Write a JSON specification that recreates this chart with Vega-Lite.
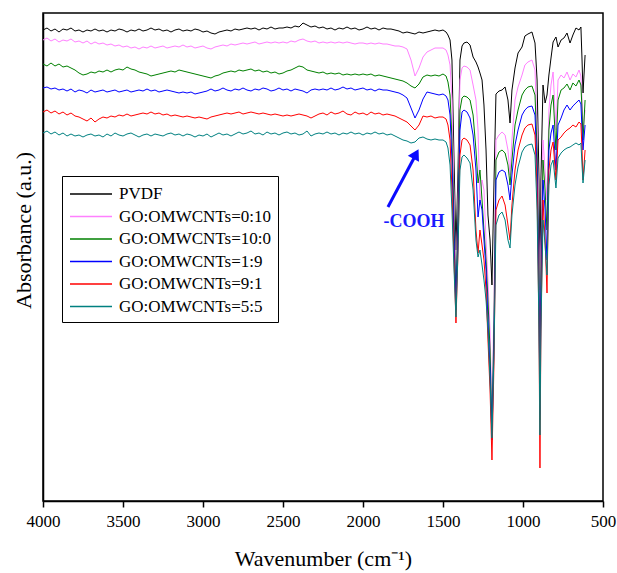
{
"$schema":"https://vega.github.io/schema/vega-lite/v6.json",
"autosize":"none",
"width":560,"height":488,
"padding":{"left":43,"top":13,"right":14,"bottom":72},
"background":"white",
"config":{"font":"Liberation Serif, Times New Roman, serif","view":{"stroke":"black","strokeWidth":1.5}},
"layer":[
{"data":{"values":[
{"s":"PVDF","w":4000,"a":471},{"s":"PVDF","w":3975,"a":473},{"s":"PVDF","w":3950,"a":470},{"s":"PVDF","w":3925,"a":472},{"s":"PVDF","w":3900,"a":469},{"s":"PVDF","w":3875,"a":472},{"s":"PVDF","w":3850,"a":471},{"s":"PVDF","w":3825,"a":473},{"s":"PVDF","w":3800,"a":470},{"s":"PVDF","w":3775,"a":471},
{"s":"PVDF","w":3750,"a":469},{"s":"PVDF","w":3725,"a":471},{"s":"PVDF","w":3700,"a":470},{"s":"PVDF","w":3675,"a":472},{"s":"PVDF","w":3650,"a":470},{"s":"PVDF","w":3625,"a":471},{"s":"PVDF","w":3600,"a":469},{"s":"PVDF","w":3575,"a":471},{"s":"PVDF","w":3550,"a":470},{"s":"PVDF","w":3525,"a":472},
{"s":"PVDF","w":3500,"a":471},{"s":"PVDF","w":3475,"a":469},{"s":"PVDF","w":3450,"a":471},{"s":"PVDF","w":3425,"a":470},{"s":"PVDF","w":3400,"a":472},{"s":"PVDF","w":3375,"a":470},{"s":"PVDF","w":3350,"a":471},{"s":"PVDF","w":3325,"a":473},{"s":"PVDF","w":3300,"a":471},{"s":"PVDF","w":3275,"a":472},
{"s":"PVDF","w":3250,"a":470},{"s":"PVDF","w":3225,"a":471},{"s":"PVDF","w":3200,"a":469},{"s":"PVDF","w":3175,"a":471},{"s":"PVDF","w":3150,"a":472},{"s":"PVDF","w":3125,"a":470},{"s":"PVDF","w":3100,"a":471},{"s":"PVDF","w":3075,"a":470},{"s":"PVDF","w":3050,"a":472},{"s":"PVDF","w":3025,"a":471},
{"s":"PVDF","w":3000,"a":469},{"s":"PVDF","w":2975,"a":470},{"s":"PVDF","w":2950,"a":468},{"s":"PVDF","w":2925,"a":467},{"s":"PVDF","w":2900,"a":469},{"s":"PVDF","w":2875,"a":470},{"s":"PVDF","w":2850,"a":471},{"s":"PVDF","w":2825,"a":470},{"s":"PVDF","w":2800,"a":472},{"s":"PVDF","w":2775,"a":471},
{"s":"PVDF","w":2750,"a":472},{"s":"PVDF","w":2725,"a":473},{"s":"PVDF","w":2700,"a":472},{"s":"PVDF","w":2675,"a":473},{"s":"PVDF","w":2650,"a":471},{"s":"PVDF","w":2625,"a":473},{"s":"PVDF","w":2600,"a":472},{"s":"PVDF","w":2575,"a":474},{"s":"PVDF","w":2550,"a":472},{"s":"PVDF","w":2525,"a":473},
{"s":"PVDF","w":2500,"a":473},{"s":"PVDF","w":2475,"a":474},{"s":"PVDF","w":2450,"a":473},{"s":"PVDF","w":2425,"a":475},{"s":"PVDF","w":2400,"a":474},{"s":"PVDF","w":2375,"a":478},{"s":"PVDF","w":2350,"a":476},{"s":"PVDF","w":2325,"a":474},{"s":"PVDF","w":2300,"a":475},{"s":"PVDF","w":2275,"a":473},
{"s":"PVDF","w":2250,"a":474},{"s":"PVDF","w":2225,"a":472},{"s":"PVDF","w":2200,"a":473},{"s":"PVDF","w":2175,"a":471},{"s":"PVDF","w":2150,"a":473},{"s":"PVDF","w":2125,"a":472},{"s":"PVDF","w":2100,"a":474},{"s":"PVDF","w":2075,"a":472},{"s":"PVDF","w":2050,"a":473},{"s":"PVDF","w":2025,"a":471},
{"s":"PVDF","w":2000,"a":472},{"s":"PVDF","w":1975,"a":474},{"s":"PVDF","w":1950,"a":472},{"s":"PVDF","w":1925,"a":473},{"s":"PVDF","w":1900,"a":471},{"s":"PVDF","w":1875,"a":473},{"s":"PVDF","w":1850,"a":472},{"s":"PVDF","w":1825,"a":472},{"s":"PVDF","w":1800,"a":471},{"s":"PVDF","w":1775,"a":470},
{"s":"PVDF","w":1750,"a":468},{"s":"PVDF","w":1725,"a":469},{"s":"PVDF","w":1700,"a":468},{"s":"PVDF","w":1675,"a":467},{"s":"PVDF","w":1650,"a":469},{"s":"PVDF","w":1625,"a":468},{"s":"PVDF","w":1600,"a":469},{"s":"PVDF","w":1575,"a":470},{"s":"PVDF","w":1550,"a":471},{"s":"PVDF","w":1525,"a":470},
{"s":"PVDF","w":1500,"a":471},{"s":"PVDF","w":1481,"a":469},{"s":"PVDF","w":1469,"a":466},{"s":"PVDF","w":1456,"a":461},{"s":"PVDF","w":1444,"a":441},{"s":"PVDF","w":1431,"a":341},{"s":"PVDF","w":1419,"a":251},{"s":"PVDF","w":1406,"a":331},{"s":"PVDF","w":1394,"a":441},{"s":"PVDF","w":1381,"a":455},
{"s":"PVDF","w":1369,"a":458},{"s":"PVDF","w":1350,"a":459},{"s":"PVDF","w":1331,"a":456},{"s":"PVDF","w":1312,"a":444},{"s":"PVDF","w":1294,"a":439},{"s":"PVDF","w":1281,"a":434},{"s":"PVDF","w":1269,"a":428},{"s":"PVDF","w":1256,"a":421},{"s":"PVDF","w":1244,"a":396},{"s":"PVDF","w":1231,"a":351},
{"s":"PVDF","w":1219,"a":286},{"s":"PVDF","w":1206,"a":261},{"s":"PVDF","w":1194,"a":216},{"s":"PVDF","w":1181,"a":321},{"s":"PVDF","w":1169,"a":407},{"s":"PVDF","w":1150,"a":410},{"s":"PVDF","w":1131,"a":411},{"s":"PVDF","w":1112,"a":414},{"s":"PVDF","w":1094,"a":401},{"s":"PVDF","w":1081,"a":378},
{"s":"PVDF","w":1069,"a":411},{"s":"PVDF","w":1050,"a":433},{"s":"PVDF","w":1031,"a":448},{"s":"PVDF","w":1006,"a":454},{"s":"PVDF","w":988,"a":465},{"s":"PVDF","w":969,"a":467},{"s":"PVDF","w":944,"a":469},{"s":"PVDF","w":925,"a":458},{"s":"PVDF","w":912,"a":421},{"s":"PVDF","w":900,"a":321},
{"s":"PVDF","w":894,"a":211},{"s":"PVDF","w":888,"a":321},{"s":"PVDF","w":875,"a":416},{"s":"PVDF","w":862,"a":398},{"s":"PVDF","w":850,"a":406},{"s":"PVDF","w":838,"a":426},{"s":"PVDF","w":825,"a":443},{"s":"PVDF","w":812,"a":459},{"s":"PVDF","w":794,"a":464},{"s":"PVDF","w":781,"a":454},
{"s":"PVDF","w":762,"a":461},{"s":"PVDF","w":744,"a":463},{"s":"PVDF","w":725,"a":468},{"s":"PVDF","w":706,"a":458},{"s":"PVDF","w":688,"a":466},{"s":"PVDF","w":669,"a":473},{"s":"PVDF","w":650,"a":471},{"s":"PVDF","w":638,"a":474},{"s":"PVDF","w":631,"a":441},{"s":"PVDF","w":625,"a":408},
{"s":"PVDF","w":612,"a":446},

{"s":"0:10","w":4000,"a":461},{"s":"0:10","w":3975,"a":463},{"s":"0:10","w":3950,"a":460},{"s":"0:10","w":3925,"a":462},{"s":"0:10","w":3900,"a":459},{"s":"0:10","w":3875,"a":461},{"s":"0:10","w":3850,"a":460},{"s":"0:10","w":3825,"a":462},{"s":"0:10","w":3800,"a":459},{"s":"0:10","w":3775,"a":460},
{"s":"0:10","w":3750,"a":458},{"s":"0:10","w":3725,"a":460},{"s":"0:10","w":3700,"a":457},{"s":"0:10","w":3675,"a":459},{"s":"0:10","w":3650,"a":457},{"s":"0:10","w":3625,"a":458},{"s":"0:10","w":3600,"a":456},{"s":"0:10","w":3575,"a":457},{"s":"0:10","w":3550,"a":455},{"s":"0:10","w":3525,"a":456},
{"s":"0:10","w":3500,"a":454},{"s":"0:10","w":3475,"a":455},{"s":"0:10","w":3450,"a":453},{"s":"0:10","w":3425,"a":454},{"s":"0:10","w":3400,"a":452},{"s":"0:10","w":3375,"a":454},{"s":"0:10","w":3350,"a":453},{"s":"0:10","w":3325,"a":455},{"s":"0:10","w":3300,"a":453},{"s":"0:10","w":3275,"a":454},
{"s":"0:10","w":3250,"a":455},{"s":"0:10","w":3225,"a":453},{"s":"0:10","w":3200,"a":454},{"s":"0:10","w":3175,"a":455},{"s":"0:10","w":3150,"a":454},{"s":"0:10","w":3125,"a":456},{"s":"0:10","w":3100,"a":454},{"s":"0:10","w":3075,"a":455},{"s":"0:10","w":3050,"a":453},{"s":"0:10","w":3025,"a":454},
{"s":"0:10","w":3000,"a":455},{"s":"0:10","w":2975,"a":453},{"s":"0:10","w":2950,"a":452},{"s":"0:10","w":2925,"a":454},{"s":"0:10","w":2900,"a":455},{"s":"0:10","w":2875,"a":456},{"s":"0:10","w":2850,"a":455},{"s":"0:10","w":2825,"a":457},{"s":"0:10","w":2800,"a":456},{"s":"0:10","w":2775,"a":457},
{"s":"0:10","w":2750,"a":458},{"s":"0:10","w":2725,"a":457},{"s":"0:10","w":2700,"a":458},{"s":"0:10","w":2675,"a":459},{"s":"0:10","w":2650,"a":457},{"s":"0:10","w":2625,"a":458},{"s":"0:10","w":2600,"a":459},{"s":"0:10","w":2575,"a":458},{"s":"0:10","w":2550,"a":459},{"s":"0:10","w":2525,"a":458},
{"s":"0:10","w":2500,"a":459},{"s":"0:10","w":2475,"a":458},{"s":"0:10","w":2450,"a":460},{"s":"0:10","w":2425,"a":459},{"s":"0:10","w":2400,"a":461},{"s":"0:10","w":2375,"a":462},{"s":"0:10","w":2350,"a":460},{"s":"0:10","w":2325,"a":459},{"s":"0:10","w":2300,"a":460},{"s":"0:10","w":2275,"a":458},
{"s":"0:10","w":2250,"a":459},{"s":"0:10","w":2225,"a":458},{"s":"0:10","w":2200,"a":459},{"s":"0:10","w":2175,"a":458},{"s":"0:10","w":2150,"a":459},{"s":"0:10","w":2125,"a":458},{"s":"0:10","w":2100,"a":459},{"s":"0:10","w":2075,"a":458},{"s":"0:10","w":2050,"a":457},{"s":"0:10","w":2025,"a":458},
{"s":"0:10","w":2000,"a":458},{"s":"0:10","w":1975,"a":457},{"s":"0:10","w":1950,"a":458},{"s":"0:10","w":1925,"a":457},{"s":"0:10","w":1900,"a":458},{"s":"0:10","w":1875,"a":457},{"s":"0:10","w":1850,"a":457},{"s":"0:10","w":1825,"a":456},{"s":"0:10","w":1800,"a":455},{"s":"0:10","w":1775,"a":455},
{"s":"0:10","w":1750,"a":454},{"s":"0:10","w":1725,"a":452},{"s":"0:10","w":1700,"a":441},{"s":"0:10","w":1675,"a":425},{"s":"0:10","w":1650,"a":433},{"s":"0:10","w":1625,"a":444},{"s":"0:10","w":1600,"a":449},{"s":"0:10","w":1575,"a":451},{"s":"0:10","w":1550,"a":453},{"s":"0:10","w":1525,"a":453},
{"s":"0:10","w":1500,"a":453},{"s":"0:10","w":1481,"a":451},{"s":"0:10","w":1469,"a":446},{"s":"0:10","w":1456,"a":436},{"s":"0:10","w":1444,"a":401},{"s":"0:10","w":1431,"a":301},{"s":"0:10","w":1419,"a":211},{"s":"0:10","w":1406,"a":301},{"s":"0:10","w":1394,"a":421},{"s":"0:10","w":1381,"a":433},
{"s":"0:10","w":1369,"a":435},{"s":"0:10","w":1350,"a":434},{"s":"0:10","w":1331,"a":431},{"s":"0:10","w":1312,"a":416},{"s":"0:10","w":1294,"a":401},{"s":"0:10","w":1281,"a":371},{"s":"0:10","w":1269,"a":296},{"s":"0:10","w":1256,"a":321},{"s":"0:10","w":1244,"a":311},{"s":"0:10","w":1231,"a":261},
{"s":"0:10","w":1219,"a":221},{"s":"0:10","w":1206,"a":171},{"s":"0:10","w":1194,"a":81},{"s":"0:10","w":1181,"a":201},{"s":"0:10","w":1169,"a":361},{"s":"0:10","w":1150,"a":366},{"s":"0:10","w":1131,"a":369},{"s":"0:10","w":1112,"a":366},{"s":"0:10","w":1094,"a":351},{"s":"0:10","w":1081,"a":326},
{"s":"0:10","w":1069,"a":361},{"s":"0:10","w":1050,"a":401},{"s":"0:10","w":1031,"a":414},{"s":"0:10","w":1006,"a":426},{"s":"0:10","w":988,"a":436},{"s":"0:10","w":969,"a":439},{"s":"0:10","w":944,"a":441},{"s":"0:10","w":925,"a":431},{"s":"0:10","w":912,"a":371},{"s":"0:10","w":900,"a":251},
{"s":"0:10","w":894,"a":121},{"s":"0:10","w":888,"a":251},{"s":"0:10","w":875,"a":361},{"s":"0:10","w":862,"a":331},{"s":"0:10","w":850,"a":301},{"s":"0:10","w":838,"a":391},{"s":"0:10","w":825,"a":416},{"s":"0:10","w":812,"a":429},{"s":"0:10","w":794,"a":371},{"s":"0:10","w":781,"a":421},
{"s":"0:10","w":762,"a":426},{"s":"0:10","w":744,"a":423},{"s":"0:10","w":725,"a":429},{"s":"0:10","w":706,"a":421},{"s":"0:10","w":688,"a":427},{"s":"0:10","w":669,"a":424},{"s":"0:10","w":650,"a":431},{"s":"0:10","w":638,"a":425},{"s":"0:10","w":631,"a":401},{"s":"0:10","w":625,"a":371},
{"s":"0:10","w":612,"a":391},

{"s":"10:0","w":4000,"a":437},{"s":"10:0","w":3975,"a":435},{"s":"10:0","w":3950,"a":438},{"s":"10:0","w":3925,"a":435},{"s":"10:0","w":3900,"a":437},{"s":"10:0","w":3875,"a":434},{"s":"10:0","w":3850,"a":435},{"s":"10:0","w":3825,"a":433},{"s":"10:0","w":3800,"a":431},{"s":"10:0","w":3775,"a":428},
{"s":"10:0","w":3750,"a":426},{"s":"10:0","w":3725,"a":427},{"s":"10:0","w":3700,"a":429},{"s":"10:0","w":3675,"a":428},{"s":"10:0","w":3650,"a":430},{"s":"10:0","w":3625,"a":429},{"s":"10:0","w":3600,"a":431},{"s":"10:0","w":3575,"a":429},{"s":"10:0","w":3550,"a":431},{"s":"10:0","w":3525,"a":432},
{"s":"10:0","w":3500,"a":431},{"s":"10:0","w":3475,"a":434},{"s":"10:0","w":3450,"a":432},{"s":"10:0","w":3425,"a":431},{"s":"10:0","w":3400,"a":429},{"s":"10:0","w":3375,"a":428},{"s":"10:0","w":3350,"a":427},{"s":"10:0","w":3325,"a":425},{"s":"10:0","w":3300,"a":426},{"s":"10:0","w":3275,"a":427},
{"s":"10:0","w":3250,"a":428},{"s":"10:0","w":3225,"a":429},{"s":"10:0","w":3200,"a":430},{"s":"10:0","w":3175,"a":429},{"s":"10:0","w":3150,"a":431},{"s":"10:0","w":3125,"a":430},{"s":"10:0","w":3100,"a":429},{"s":"10:0","w":3075,"a":428},{"s":"10:0","w":3050,"a":427},{"s":"10:0","w":3025,"a":426},
{"s":"10:0","w":3000,"a":425},{"s":"10:0","w":2975,"a":424},{"s":"10:0","w":2950,"a":423},{"s":"10:0","w":2925,"a":425},{"s":"10:0","w":2900,"a":426},{"s":"10:0","w":2875,"a":428},{"s":"10:0","w":2850,"a":429},{"s":"10:0","w":2825,"a":430},{"s":"10:0","w":2800,"a":429},{"s":"10:0","w":2775,"a":431},
{"s":"10:0","w":2750,"a":430},{"s":"10:0","w":2725,"a":431},{"s":"10:0","w":2700,"a":432},{"s":"10:0","w":2675,"a":430},{"s":"10:0","w":2650,"a":431},{"s":"10:0","w":2625,"a":429},{"s":"10:0","w":2600,"a":430},{"s":"10:0","w":2575,"a":428},{"s":"10:0","w":2550,"a":429},{"s":"10:0","w":2525,"a":427},
{"s":"10:0","w":2500,"a":428},{"s":"10:0","w":2475,"a":430},{"s":"10:0","w":2450,"a":431},{"s":"10:0","w":2425,"a":433},{"s":"10:0","w":2400,"a":435},{"s":"10:0","w":2375,"a":434},{"s":"10:0","w":2350,"a":431},{"s":"10:0","w":2325,"a":430},{"s":"10:0","w":2300,"a":429},{"s":"10:0","w":2275,"a":428},
{"s":"10:0","w":2250,"a":429},{"s":"10:0","w":2225,"a":427},{"s":"10:0","w":2200,"a":428},{"s":"10:0","w":2175,"a":427},{"s":"10:0","w":2150,"a":428},{"s":"10:0","w":2125,"a":426},{"s":"10:0","w":2100,"a":427},{"s":"10:0","w":2075,"a":426},{"s":"10:0","w":2050,"a":427},{"s":"10:0","w":2025,"a":426},
{"s":"10:0","w":2000,"a":427},{"s":"10:0","w":1975,"a":426},{"s":"10:0","w":1950,"a":427},{"s":"10:0","w":1925,"a":425},{"s":"10:0","w":1900,"a":426},{"s":"10:0","w":1875,"a":425},{"s":"10:0","w":1850,"a":424},{"s":"10:0","w":1825,"a":423},{"s":"10:0","w":1800,"a":422},{"s":"10:0","w":1775,"a":421},
{"s":"10:0","w":1750,"a":420},{"s":"10:0","w":1725,"a":418},{"s":"10:0","w":1700,"a":415},{"s":"10:0","w":1675,"a":413},{"s":"10:0","w":1650,"a":417},{"s":"10:0","w":1625,"a":424},{"s":"10:0","w":1600,"a":426},{"s":"10:0","w":1575,"a":425},{"s":"10:0","w":1550,"a":426},{"s":"10:0","w":1525,"a":425},
{"s":"10:0","w":1500,"a":427},{"s":"10:0","w":1481,"a":425},{"s":"10:0","w":1469,"a":419},{"s":"10:0","w":1456,"a":406},{"s":"10:0","w":1444,"a":361},{"s":"10:0","w":1431,"a":281},{"s":"10:0","w":1419,"a":201},{"s":"10:0","w":1406,"a":291},{"s":"10:0","w":1394,"a":391},{"s":"10:0","w":1381,"a":403},
{"s":"10:0","w":1369,"a":405},{"s":"10:0","w":1350,"a":404},{"s":"10:0","w":1331,"a":401},{"s":"10:0","w":1312,"a":386},{"s":"10:0","w":1294,"a":351},{"s":"10:0","w":1281,"a":318},{"s":"10:0","w":1269,"a":331},{"s":"10:0","w":1256,"a":301},{"s":"10:0","w":1244,"a":271},{"s":"10:0","w":1231,"a":241},
{"s":"10:0","w":1219,"a":201},{"s":"10:0","w":1206,"a":151},{"s":"10:0","w":1194,"a":71},{"s":"10:0","w":1181,"a":181},{"s":"10:0","w":1169,"a":341},{"s":"10:0","w":1150,"a":349},{"s":"10:0","w":1131,"a":351},{"s":"10:0","w":1112,"a":348},{"s":"10:0","w":1094,"a":336},{"s":"10:0","w":1081,"a":316},
{"s":"10:0","w":1069,"a":341},{"s":"10:0","w":1050,"a":376},{"s":"10:0","w":1031,"a":391},{"s":"10:0","w":1006,"a":406},{"s":"10:0","w":988,"a":411},{"s":"10:0","w":969,"a":414},{"s":"10:0","w":944,"a":415},{"s":"10:0","w":925,"a":406},{"s":"10:0","w":912,"a":351},{"s":"10:0","w":900,"a":221},
{"s":"10:0","w":894,"a":81},{"s":"10:0","w":888,"a":221},{"s":"10:0","w":875,"a":341},{"s":"10:0","w":862,"a":311},{"s":"10:0","w":850,"a":271},{"s":"10:0","w":838,"a":371},{"s":"10:0","w":825,"a":396},{"s":"10:0","w":812,"a":406},{"s":"10:0","w":794,"a":351},{"s":"10:0","w":781,"a":401},
{"s":"10:0","w":762,"a":411},{"s":"10:0","w":744,"a":413},{"s":"10:0","w":725,"a":417},{"s":"10:0","w":706,"a":411},{"s":"10:0","w":688,"a":418},{"s":"10:0","w":669,"a":415},{"s":"10:0","w":650,"a":421},{"s":"10:0","w":638,"a":416},{"s":"10:0","w":631,"a":391},{"s":"10:0","w":625,"a":361},
{"s":"10:0","w":612,"a":401},

{"s":"1:9","w":4000,"a":413},{"s":"1:9","w":3975,"a":414},{"s":"1:9","w":3950,"a":412},{"s":"1:9","w":3925,"a":413},{"s":"1:9","w":3900,"a":411},{"s":"1:9","w":3875,"a":412},{"s":"1:9","w":3850,"a":410},{"s":"1:9","w":3825,"a":412},{"s":"1:9","w":3800,"a":409},{"s":"1:9","w":3775,"a":411},
{"s":"1:9","w":3750,"a":410},{"s":"1:9","w":3725,"a":408},{"s":"1:9","w":3700,"a":411},{"s":"1:9","w":3675,"a":409},{"s":"1:9","w":3650,"a":410},{"s":"1:9","w":3625,"a":411},{"s":"1:9","w":3600,"a":409},{"s":"1:9","w":3575,"a":410},{"s":"1:9","w":3550,"a":411},{"s":"1:9","w":3525,"a":409},
{"s":"1:9","w":3500,"a":410},{"s":"1:9","w":3475,"a":411},{"s":"1:9","w":3450,"a":409},{"s":"1:9","w":3425,"a":410},{"s":"1:9","w":3400,"a":411},{"s":"1:9","w":3375,"a":410},{"s":"1:9","w":3350,"a":412},{"s":"1:9","w":3325,"a":410},{"s":"1:9","w":3300,"a":411},{"s":"1:9","w":3275,"a":409},
{"s":"1:9","w":3250,"a":410},{"s":"1:9","w":3225,"a":411},{"s":"1:9","w":3200,"a":410},{"s":"1:9","w":3175,"a":409},{"s":"1:9","w":3150,"a":408},{"s":"1:9","w":3125,"a":409},{"s":"1:9","w":3100,"a":408},{"s":"1:9","w":3075,"a":409},{"s":"1:9","w":3050,"a":407},{"s":"1:9","w":3025,"a":408},
{"s":"1:9","w":3000,"a":409},{"s":"1:9","w":2975,"a":410},{"s":"1:9","w":2950,"a":412},{"s":"1:9","w":2925,"a":410},{"s":"1:9","w":2900,"a":411},{"s":"1:9","w":2875,"a":413},{"s":"1:9","w":2850,"a":411},{"s":"1:9","w":2825,"a":410},{"s":"1:9","w":2800,"a":412},{"s":"1:9","w":2775,"a":411},
{"s":"1:9","w":2750,"a":413},{"s":"1:9","w":2725,"a":411},{"s":"1:9","w":2700,"a":410},{"s":"1:9","w":2675,"a":412},{"s":"1:9","w":2650,"a":411},{"s":"1:9","w":2625,"a":413},{"s":"1:9","w":2600,"a":412},{"s":"1:9","w":2575,"a":410},{"s":"1:9","w":2550,"a":411},{"s":"1:9","w":2525,"a":413},
{"s":"1:9","w":2500,"a":411},{"s":"1:9","w":2475,"a":412},{"s":"1:9","w":2450,"a":410},{"s":"1:9","w":2425,"a":412},{"s":"1:9","w":2400,"a":411},{"s":"1:9","w":2375,"a":410},{"s":"1:9","w":2350,"a":408},{"s":"1:9","w":2325,"a":411},{"s":"1:9","w":2300,"a":412},{"s":"1:9","w":2275,"a":411},
{"s":"1:9","w":2250,"a":412},{"s":"1:9","w":2225,"a":411},{"s":"1:9","w":2200,"a":413},{"s":"1:9","w":2175,"a":411},{"s":"1:9","w":2150,"a":412},{"s":"1:9","w":2125,"a":414},{"s":"1:9","w":2100,"a":412},{"s":"1:9","w":2075,"a":413},{"s":"1:9","w":2050,"a":411},{"s":"1:9","w":2025,"a":412},
{"s":"1:9","w":2000,"a":413},{"s":"1:9","w":1975,"a":411},{"s":"1:9","w":1950,"a":412},{"s":"1:9","w":1925,"a":410},{"s":"1:9","w":1900,"a":412},{"s":"1:9","w":1875,"a":411},{"s":"1:9","w":1850,"a":411},{"s":"1:9","w":1825,"a":410},{"s":"1:9","w":1800,"a":409},{"s":"1:9","w":1775,"a":408},
{"s":"1:9","w":1750,"a":406},{"s":"1:9","w":1725,"a":403},{"s":"1:9","w":1700,"a":393},{"s":"1:9","w":1675,"a":383},{"s":"1:9","w":1650,"a":391},{"s":"1:9","w":1625,"a":402},{"s":"1:9","w":1600,"a":409},{"s":"1:9","w":1575,"a":408},{"s":"1:9","w":1550,"a":407},{"s":"1:9","w":1525,"a":406},
{"s":"1:9","w":1500,"a":407},{"s":"1:9","w":1481,"a":405},{"s":"1:9","w":1469,"a":401},{"s":"1:9","w":1456,"a":386},{"s":"1:9","w":1444,"a":341},{"s":"1:9","w":1431,"a":261},{"s":"1:9","w":1419,"a":191},{"s":"1:9","w":1406,"a":271},{"s":"1:9","w":1394,"a":371},{"s":"1:9","w":1381,"a":389},
{"s":"1:9","w":1369,"a":391},{"s":"1:9","w":1350,"a":389},{"s":"1:9","w":1331,"a":383},{"s":"1:9","w":1312,"a":366},{"s":"1:9","w":1294,"a":331},{"s":"1:9","w":1281,"a":284},{"s":"1:9","w":1269,"a":301},{"s":"1:9","w":1256,"a":291},{"s":"1:9","w":1244,"a":261},{"s":"1:9","w":1231,"a":231},
{"s":"1:9","w":1219,"a":181},{"s":"1:9","w":1206,"a":131},{"s":"1:9","w":1194,"a":61},{"s":"1:9","w":1181,"a":161},{"s":"1:9","w":1169,"a":321},{"s":"1:9","w":1150,"a":329},{"s":"1:9","w":1131,"a":331},{"s":"1:9","w":1112,"a":329},{"s":"1:9","w":1094,"a":316},{"s":"1:9","w":1081,"a":301},
{"s":"1:9","w":1069,"a":326},{"s":"1:9","w":1050,"a":356},{"s":"1:9","w":1031,"a":371},{"s":"1:9","w":1006,"a":386},{"s":"1:9","w":988,"a":391},{"s":"1:9","w":969,"a":394},{"s":"1:9","w":944,"a":395},{"s":"1:9","w":925,"a":386},{"s":"1:9","w":912,"a":331},{"s":"1:9","w":900,"a":201},
{"s":"1:9","w":894,"a":86},{"s":"1:9","w":888,"a":201},{"s":"1:9","w":875,"a":321},{"s":"1:9","w":862,"a":291},{"s":"1:9","w":850,"a":241},{"s":"1:9","w":838,"a":351},{"s":"1:9","w":825,"a":368},{"s":"1:9","w":812,"a":376},{"s":"1:9","w":794,"a":331},{"s":"1:9","w":781,"a":376},
{"s":"1:9","w":762,"a":383},{"s":"1:9","w":744,"a":391},{"s":"1:9","w":725,"a":396},{"s":"1:9","w":706,"a":391},{"s":"1:9","w":688,"a":395},{"s":"1:9","w":669,"a":398},{"s":"1:9","w":650,"a":401},{"s":"1:9","w":638,"a":397},{"s":"1:9","w":631,"a":371},{"s":"1:9","w":625,"a":351},
{"s":"1:9","w":612,"a":376},

{"s":"9:1","w":4000,"a":389},{"s":"9:1","w":3975,"a":391},{"s":"9:1","w":3950,"a":388},{"s":"9:1","w":3925,"a":390},{"s":"9:1","w":3900,"a":387},{"s":"9:1","w":3875,"a":389},{"s":"9:1","w":3850,"a":386},{"s":"9:1","w":3825,"a":388},{"s":"9:1","w":3800,"a":385},{"s":"9:1","w":3775,"a":384},
{"s":"9:1","w":3750,"a":382},{"s":"9:1","w":3725,"a":380},{"s":"9:1","w":3700,"a":383},{"s":"9:1","w":3675,"a":379},{"s":"9:1","w":3650,"a":382},{"s":"9:1","w":3625,"a":384},{"s":"9:1","w":3600,"a":383},{"s":"9:1","w":3575,"a":385},{"s":"9:1","w":3550,"a":384},{"s":"9:1","w":3525,"a":386},
{"s":"9:1","w":3500,"a":385},{"s":"9:1","w":3475,"a":387},{"s":"9:1","w":3450,"a":385},{"s":"9:1","w":3425,"a":386},{"s":"9:1","w":3400,"a":387},{"s":"9:1","w":3375,"a":388},{"s":"9:1","w":3350,"a":387},{"s":"9:1","w":3325,"a":389},{"s":"9:1","w":3300,"a":387},{"s":"9:1","w":3275,"a":388},
{"s":"9:1","w":3250,"a":386},{"s":"9:1","w":3225,"a":387},{"s":"9:1","w":3200,"a":385},{"s":"9:1","w":3175,"a":386},{"s":"9:1","w":3150,"a":385},{"s":"9:1","w":3125,"a":384},{"s":"9:1","w":3100,"a":385},{"s":"9:1","w":3075,"a":384},{"s":"9:1","w":3050,"a":383},{"s":"9:1","w":3025,"a":384},
{"s":"9:1","w":3000,"a":383},{"s":"9:1","w":2975,"a":382},{"s":"9:1","w":2950,"a":384},{"s":"9:1","w":2925,"a":385},{"s":"9:1","w":2900,"a":386},{"s":"9:1","w":2875,"a":387},{"s":"9:1","w":2850,"a":388},{"s":"9:1","w":2825,"a":387},{"s":"9:1","w":2800,"a":388},{"s":"9:1","w":2775,"a":389},
{"s":"9:1","w":2750,"a":387},{"s":"9:1","w":2725,"a":388},{"s":"9:1","w":2700,"a":389},{"s":"9:1","w":2675,"a":388},{"s":"9:1","w":2650,"a":387},{"s":"9:1","w":2625,"a":388},{"s":"9:1","w":2600,"a":387},{"s":"9:1","w":2575,"a":386},{"s":"9:1","w":2550,"a":387},{"s":"9:1","w":2525,"a":386},
{"s":"9:1","w":2500,"a":385},{"s":"9:1","w":2475,"a":386},{"s":"9:1","w":2450,"a":385},{"s":"9:1","w":2425,"a":386},{"s":"9:1","w":2400,"a":387},{"s":"9:1","w":2375,"a":386},{"s":"9:1","w":2350,"a":385},{"s":"9:1","w":2325,"a":383},{"s":"9:1","w":2300,"a":385},{"s":"9:1","w":2275,"a":387},
{"s":"9:1","w":2250,"a":388},{"s":"9:1","w":2225,"a":386},{"s":"9:1","w":2200,"a":389},{"s":"9:1","w":2175,"a":387},{"s":"9:1","w":2150,"a":388},{"s":"9:1","w":2125,"a":390},{"s":"9:1","w":2100,"a":387},{"s":"9:1","w":2075,"a":386},{"s":"9:1","w":2050,"a":389},{"s":"9:1","w":2025,"a":387},
{"s":"9:1","w":2000,"a":388},{"s":"9:1","w":1975,"a":386},{"s":"9:1","w":1950,"a":389},{"s":"9:1","w":1925,"a":387},{"s":"9:1","w":1900,"a":388},{"s":"9:1","w":1875,"a":386},{"s":"9:1","w":1850,"a":387},{"s":"9:1","w":1825,"a":386},{"s":"9:1","w":1800,"a":385},{"s":"9:1","w":1775,"a":383},
{"s":"9:1","w":1750,"a":381},{"s":"9:1","w":1725,"a":379},{"s":"9:1","w":1700,"a":375},{"s":"9:1","w":1675,"a":371},{"s":"9:1","w":1650,"a":376},{"s":"9:1","w":1625,"a":385},{"s":"9:1","w":1600,"a":384},{"s":"9:1","w":1575,"a":385},{"s":"9:1","w":1550,"a":383},{"s":"9:1","w":1525,"a":384},
{"s":"9:1","w":1500,"a":384},{"s":"9:1","w":1481,"a":382},{"s":"9:1","w":1469,"a":376},{"s":"9:1","w":1456,"a":361},{"s":"9:1","w":1444,"a":311},{"s":"9:1","w":1431,"a":241},{"s":"9:1","w":1419,"a":178},{"s":"9:1","w":1406,"a":251},{"s":"9:1","w":1394,"a":346},{"s":"9:1","w":1381,"a":361},
{"s":"9:1","w":1369,"a":363},{"s":"9:1","w":1350,"a":361},{"s":"9:1","w":1331,"a":356},{"s":"9:1","w":1312,"a":331},{"s":"9:1","w":1294,"a":271},{"s":"9:1","w":1281,"a":248},{"s":"9:1","w":1269,"a":271},{"s":"9:1","w":1256,"a":256},{"s":"9:1","w":1244,"a":241},{"s":"9:1","w":1231,"a":211},
{"s":"9:1","w":1219,"a":161},{"s":"9:1","w":1206,"a":111},{"s":"9:1","w":1194,"a":41},{"s":"9:1","w":1181,"a":141},{"s":"9:1","w":1169,"a":291},{"s":"9:1","w":1150,"a":301},{"s":"9:1","w":1131,"a":305},{"s":"9:1","w":1112,"a":296},{"s":"9:1","w":1094,"a":276},{"s":"9:1","w":1081,"a":261},
{"s":"9:1","w":1069,"a":296},{"s":"9:1","w":1050,"a":331},{"s":"9:1","w":1031,"a":351},{"s":"9:1","w":1006,"a":366},{"s":"9:1","w":988,"a":373},{"s":"9:1","w":969,"a":376},{"s":"9:1","w":944,"a":377},{"s":"9:1","w":925,"a":366},{"s":"9:1","w":912,"a":311},{"s":"9:1","w":900,"a":171},
{"s":"9:1","w":894,"a":33},{"s":"9:1","w":888,"a":171},{"s":"9:1","w":875,"a":301},{"s":"9:1","w":862,"a":261},{"s":"9:1","w":850,"a":208},{"s":"9:1","w":838,"a":331},{"s":"9:1","w":825,"a":351},{"s":"9:1","w":812,"a":359},{"s":"9:1","w":794,"a":321},{"s":"9:1","w":781,"a":361},
{"s":"9:1","w":762,"a":364},{"s":"9:1","w":744,"a":368},{"s":"9:1","w":725,"a":371},{"s":"9:1","w":706,"a":373},{"s":"9:1","w":688,"a":376},{"s":"9:1","w":669,"a":374},{"s":"9:1","w":650,"a":379},{"s":"9:1","w":638,"a":377},{"s":"9:1","w":631,"a":351},{"s":"9:1","w":625,"a":321},
{"s":"9:1","w":612,"a":351},

{"s":"5:5","w":4000,"a":368},{"s":"5:5","w":3975,"a":370},{"s":"5:5","w":3950,"a":367},{"s":"5:5","w":3925,"a":369},{"s":"5:5","w":3900,"a":366},{"s":"5:5","w":3875,"a":368},{"s":"5:5","w":3850,"a":365},{"s":"5:5","w":3825,"a":367},{"s":"5:5","w":3800,"a":365},{"s":"5:5","w":3775,"a":366},
{"s":"5:5","w":3750,"a":364},{"s":"5:5","w":3725,"a":366},{"s":"5:5","w":3700,"a":367},{"s":"5:5","w":3675,"a":365},{"s":"5:5","w":3650,"a":366},{"s":"5:5","w":3625,"a":364},{"s":"5:5","w":3600,"a":367},{"s":"5:5","w":3575,"a":365},{"s":"5:5","w":3550,"a":368},{"s":"5:5","w":3525,"a":366},
{"s":"5:5","w":3500,"a":365},{"s":"5:5","w":3475,"a":367},{"s":"5:5","w":3450,"a":368},{"s":"5:5","w":3425,"a":366},{"s":"5:5","w":3400,"a":364},{"s":"5:5","w":3375,"a":366},{"s":"5:5","w":3350,"a":367},{"s":"5:5","w":3325,"a":365},{"s":"5:5","w":3300,"a":367},{"s":"5:5","w":3275,"a":366},
{"s":"5:5","w":3250,"a":365},{"s":"5:5","w":3225,"a":367},{"s":"5:5","w":3200,"a":368},{"s":"5:5","w":3175,"a":366},{"s":"5:5","w":3150,"a":367},{"s":"5:5","w":3125,"a":365},{"s":"5:5","w":3100,"a":367},{"s":"5:5","w":3075,"a":366},{"s":"5:5","w":3050,"a":364},{"s":"5:5","w":3025,"a":366},
{"s":"5:5","w":3000,"a":365},{"s":"5:5","w":2975,"a":367},{"s":"5:5","w":2950,"a":364},{"s":"5:5","w":2925,"a":366},{"s":"5:5","w":2900,"a":368},{"s":"5:5","w":2875,"a":366},{"s":"5:5","w":2850,"a":367},{"s":"5:5","w":2825,"a":365},{"s":"5:5","w":2800,"a":367},{"s":"5:5","w":2775,"a":369},
{"s":"5:5","w":2750,"a":367},{"s":"5:5","w":2725,"a":368},{"s":"5:5","w":2700,"a":370},{"s":"5:5","w":2675,"a":367},{"s":"5:5","w":2650,"a":368},{"s":"5:5","w":2625,"a":366},{"s":"5:5","w":2600,"a":369},{"s":"5:5","w":2575,"a":367},{"s":"5:5","w":2550,"a":368},{"s":"5:5","w":2525,"a":366},
{"s":"5:5","w":2500,"a":368},{"s":"5:5","w":2475,"a":369},{"s":"5:5","w":2450,"a":367},{"s":"5:5","w":2425,"a":368},{"s":"5:5","w":2400,"a":366},{"s":"5:5","w":2375,"a":367},{"s":"5:5","w":2350,"a":370},{"s":"5:5","w":2325,"a":365},{"s":"5:5","w":2300,"a":367},{"s":"5:5","w":2275,"a":368},
{"s":"5:5","w":2250,"a":367},{"s":"5:5","w":2225,"a":369},{"s":"5:5","w":2200,"a":367},{"s":"5:5","w":2175,"a":368},{"s":"5:5","w":2150,"a":366},{"s":"5:5","w":2125,"a":368},{"s":"5:5","w":2100,"a":367},{"s":"5:5","w":2075,"a":369},{"s":"5:5","w":2050,"a":367},{"s":"5:5","w":2025,"a":368},
{"s":"5:5","w":2000,"a":366},{"s":"5:5","w":1975,"a":368},{"s":"5:5","w":1950,"a":367},{"s":"5:5","w":1925,"a":369},{"s":"5:5","w":1900,"a":367},{"s":"5:5","w":1875,"a":368},{"s":"5:5","w":1850,"a":366},{"s":"5:5","w":1825,"a":367},{"s":"5:5","w":1800,"a":365},{"s":"5:5","w":1775,"a":363},
{"s":"5:5","w":1750,"a":361},{"s":"5:5","w":1725,"a":360},{"s":"5:5","w":1700,"a":358},{"s":"5:5","w":1675,"a":359},{"s":"5:5","w":1650,"a":363},{"s":"5:5","w":1625,"a":364},{"s":"5:5","w":1600,"a":362},{"s":"5:5","w":1575,"a":361},{"s":"5:5","w":1550,"a":362},{"s":"5:5","w":1525,"a":361},
{"s":"5:5","w":1500,"a":361},{"s":"5:5","w":1481,"a":359},{"s":"5:5","w":1469,"a":353},{"s":"5:5","w":1456,"a":336},{"s":"5:5","w":1444,"a":291},{"s":"5:5","w":1431,"a":231},{"s":"5:5","w":1419,"a":184},{"s":"5:5","w":1406,"a":251},{"s":"5:5","w":1394,"a":331},{"s":"5:5","w":1381,"a":344},
{"s":"5:5","w":1369,"a":346},{"s":"5:5","w":1350,"a":343},{"s":"5:5","w":1331,"a":338},{"s":"5:5","w":1312,"a":311},{"s":"5:5","w":1294,"a":261},{"s":"5:5","w":1281,"a":244},{"s":"5:5","w":1269,"a":251},{"s":"5:5","w":1256,"a":236},{"s":"5:5","w":1244,"a":221},{"s":"5:5","w":1231,"a":201},
{"s":"5:5","w":1219,"a":171},{"s":"5:5","w":1206,"a":121},{"s":"5:5","w":1194,"a":63},{"s":"5:5","w":1181,"a":151},{"s":"5:5","w":1169,"a":276},{"s":"5:5","w":1150,"a":286},{"s":"5:5","w":1131,"a":289},{"s":"5:5","w":1112,"a":281},{"s":"5:5","w":1094,"a":261},{"s":"5:5","w":1081,"a":253},
{"s":"5:5","w":1069,"a":286},{"s":"5:5","w":1050,"a":316},{"s":"5:5","w":1031,"a":334},{"s":"5:5","w":1006,"a":349},{"s":"5:5","w":988,"a":354},{"s":"5:5","w":969,"a":356},{"s":"5:5","w":944,"a":357},{"s":"5:5","w":925,"a":346},{"s":"5:5","w":912,"a":291},{"s":"5:5","w":900,"a":171},
{"s":"5:5","w":894,"a":66},{"s":"5:5","w":888,"a":171},{"s":"5:5","w":875,"a":281},{"s":"5:5","w":862,"a":256},{"s":"5:5","w":850,"a":226},{"s":"5:5","w":838,"a":316},{"s":"5:5","w":825,"a":336},{"s":"5:5","w":812,"a":341},{"s":"5:5","w":794,"a":313},{"s":"5:5","w":781,"a":343},
{"s":"5:5","w":762,"a":348},{"s":"5:5","w":744,"a":351},{"s":"5:5","w":725,"a":353},{"s":"5:5","w":706,"a":354},{"s":"5:5","w":688,"a":356},{"s":"5:5","w":669,"a":358},{"s":"5:5","w":650,"a":356},{"s":"5:5","w":638,"a":358},{"s":"5:5","w":631,"a":336},{"s":"5:5","w":625,"a":318},
{"s":"5:5","w":612,"a":341}
]},
"mark":{"type":"line","strokeWidth":1,"interpolate":"linear"},
"encoding":{
"x":{"field":"w","type":"quantitative","scale":{"domain":[4000,500],"nice":false,"zero":false},
"axis":{"title":"Wavenumber (cm⁻¹)","values":[4000,3500,3000,2500,2000,1500,1000,500],"format":"d","grid":false,"domainColor":"black","domainWidth":1.5,"tickColor":"black","tickWidth":1.5,"tickSize":6,"labelFont":"Liberation Serif, Times New Roman, serif","labelFontSize":17,"labelColor":"black","labelPadding":6,"labelFlush":false,"titleFont":"Liberation Serif, Times New Roman, serif","titleFontSize":22,"titleFontWeight":"normal","titleColor":"black","titlePadding":19}},
"y":{"field":"a","type":"quantitative","scale":{"domain":[0,488],"nice":false,"zero":false},
"axis":{"title":"Absorbance (a.u.)","labels":false,"ticks":false,"grid":false,"domainColor":"black","domainWidth":1.5,"titleFont":"Liberation Serif, Times New Roman, serif","titleFontSize":22,"titleFontWeight":"normal","titleColor":"black","titleAngle":270,"titleAlign":"center","titleBaseline":"middle","titleX":-20,"titleY":217}},
"color":{"field":"s","type":"nominal","sort":null,
"scale":{"domain":["PVDF","0:10","10:0","1:9","9:1","5:5"],"range":["#000000","#ff80ff","#008000","#0000ff","#ff0000","#008080"]},
"legend":{"title":null,"orient":"none","legendX":19,"legendY":163,"labelExpr":"datum.label == 'PVDF' ? 'PVDF' : 'GO:OMWCNTs=' + datum.label","labelFont":"Liberation Serif, Times New Roman, serif","labelFontSize":17,"labelColor":"black","labelOffset":28,"symbolType":"M-1,0H3.2","symbolSize":400,"symbolStrokeWidth":1.5,"strokeColor":"black","fillColor":"white","padding":7,"rowPadding":3.5,"labelLimit":300}}
}},
{"data":{"values":[{"w":1844,"a":294,"w2":1681,"a2":343}]},
"mark":{"type":"rule","color":"#0a0aff","strokeWidth":3},
"encoding":{"x":{"field":"w","type":"quantitative"},"y":{"field":"a","type":"quantitative"},"x2":{"field":"w2"},"y2":{"field":"a2"}}},
{"data":{"values":[{"w":1669,"a":347}]},
"mark":{"type":"point","shape":"triangle-up","angle":28,"filled":true,"size":160,"color":"#0a0aff","opacity":1},
"encoding":{"x":{"field":"w","type":"quantitative"},"y":{"field":"a","type":"quantitative"}}},
{"data":{"values":[{"w":1681,"a":279,"t":"-COOH"}]},
"mark":{"type":"text","font":"Liberation Serif, Times New Roman, serif","fontSize":18,"fontWeight":"bold","color":"#1a1aff","align":"center","baseline":"middle"},
"encoding":{"x":{"field":"w","type":"quantitative"},"y":{"field":"a","type":"quantitative"},"text":{"field":"t"}}}
]
}
